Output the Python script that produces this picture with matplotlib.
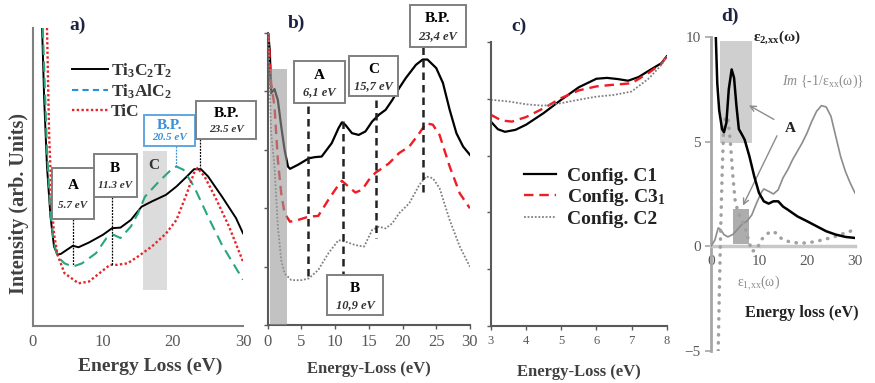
import matplotlib
matplotlib.use('Agg')
import matplotlib.pyplot as plt
from matplotlib.patches import Rectangle
from matplotlib.lines import Line2D

plt.rcParams['font.family'] = ['Liberation Serif', 'DejaVu Serif', 'DejaVu Sans']
plt.rcParams['mathtext.fontset'] = 'custom'
plt.rcParams['mathtext.rm'] = 'Liberation Serif'
plt.rcParams['mathtext.it'] = 'Liberation Serif:italic'
plt.rcParams['mathtext.bf'] = 'Liberation Serif:bold'

# ---- panel a) data (arb. units, 0-100) ----
a_x_ti3c2t2 = [1.3, 1.6, 2, 2.5, 3, 3.5, 4, 5, 5.7, 6.5, 8, 10, 11.3, 12.5, 14, 15.5, 17, 19, 20.5, 22, 23, 24, 25, 27, 29, 30]
a_y_ti3c2t2 = [100, 76, 53.5, 36.7, 26.7, 23.9, 24.2, 25.8, 26.9, 26.4, 28, 30.6, 32.8, 33, 35.6, 40, 41.8, 44, 46.8, 50.2, 52.6, 52.6, 50.2, 43.4, 36.2, 31.1]
a_x_ti3alc2 = [1.4, 2, 2.5, 3, 3.5, 4.5, 5.7, 7, 9, 10.5, 11.5, 12.5, 14, 15, 16, 18, 20, 20.5, 21.5, 23, 25, 27, 30]
a_y_ti3alc2 = [100, 59, 37.8, 27.8, 23.3, 21, 19.9, 21, 24.4, 29.5, 30.6, 29.5, 33.4, 37.8, 43.4, 48.5, 53, 53.5, 52.4, 46.8, 36.7, 27.2, 15.5]
a_x_tic = [2, 2.3, 2.7, 3, 3.5, 4.5, 6.5, 8, 9.5, 11, 12, 13.5, 15, 17, 19, 20.5, 22, 23, 23.5, 24.5, 26, 28, 30]
a_y_tic = [100, 64.7, 40, 31, 23.9, 17.7, 14.3, 14.9, 17.7, 20.5, 20.5, 21, 23.3, 26.7, 31, 35.6, 44.6, 51.3, 53, 50.2, 43.4, 33.4, 21.6]

# ---- panel b) data ----
b_x_c1 = [0.05, 0.3, 0.5, 1.0, 1.5, 2, 2.5, 3, 3.3, 4.5, 6.1, 7, 8, 9.5, 10.5, 11, 11.5, 12.5, 13.5, 14.5, 15.5, 16.5, 17.5, 18.5, 19.5, 20.5, 22, 23, 23.7, 25, 26, 27, 28, 29, 30]
b_y_c1 = [100, 94, 79.4, 80.8, 77, 68, 60, 54.3, 53.5, 54.9, 57.1, 57.5, 57.7, 62.3, 67.4, 69.4, 68.6, 65.7, 65.1, 66.3, 69.7, 72, 73.7, 77.1, 81.1, 84.6, 89.1, 90.9, 90.9, 88, 82.9, 73.7, 65.7, 61.1, 58.3]
b_x_c31 = [0.1, 0.5, 1, 1.5, 2, 2.5, 3.3, 4.5, 6, 7.5, 9, 10.5, 11, 12, 13, 14, 15, 16, 17, 18, 19.5, 21, 22.5, 23.5, 24.5, 25.5, 27, 28.5, 30]
b_y_c31 = [100, 82.9, 74.9, 56.6, 45.1, 38.3, 35.4, 36, 37.1, 37.4, 42.9, 48, 49.4, 47.4, 45.4, 46.3, 49.7, 52.2, 53.7, 55.4, 58.9, 61.1, 65.7, 69.1, 68.6, 65.1, 54.3, 45.1, 40]
b_x_c2 = [0.1, 0.5, 1, 1.5, 2, 2.5, 3.5, 5, 6.1, 7.5, 9, 10.5, 11.5, 13, 14.3, 15.5, 16.5, 17.5, 18.5, 19.5, 21, 22.5, 23.5, 24.5, 25.5, 27, 28.5, 30]
b_y_c2 = [100, 65.7, 54.3, 33.7, 22.3, 17.7, 15.4, 15.4, 16, 18.9, 24.6, 29.1, 28.6, 27.4, 26.9, 32.6, 33.7, 33.1, 34.9, 38.3, 41.7, 48, 50.9, 50.3, 46.9, 36, 26.9, 20]

# ---- panel c) data (zoom 3-8 eV) ----
c_x_c1 = [3, 3.2, 3.4, 3.7, 4, 4.5, 5, 5.5, 6, 6.3, 6.6, 6.9, 7.2, 7.5, 7.85, 8]
c_y_c1 = [72, 69.3, 68.4, 69.1, 70.9, 75, 79.7, 84.1, 87.1, 87.4, 87, 86.4, 87.7, 90, 92.6, 95]
c_x_c31 = [3, 3.3, 3.6, 4, 4.5, 5, 5.5, 6, 6.5, 7, 7.5, 7.85, 8]
c_y_c31 = [74.4, 72.4, 72, 73.6, 76.7, 80.3, 83, 84.4, 85, 85.5, 89.3, 92.4, 95]
c_x_c2 = [3, 3.5, 4, 4.5, 5, 5.5, 6, 6.5, 7, 7.5, 7.85, 8]
c_y_c2 = [79.7, 79.1, 78.1, 77.6, 78.5, 79.7, 80.8, 81.4, 82.6, 87.3, 92, 95]

# ---- panel d) dielectric function ----
d_x_eps2 = [1.0, 1.3, 1.7, 2.3, 2.7, 3.2, 3.7, 4.3, 4.8, 5.3, 5.8, 6.3, 7, 8, 9, 10, 11, 12, 13, 14, 15, 16, 18, 20, 22, 24, 26, 28, 30]
d_y_eps2 = [10, 7.8, 6.5, 5.6, 5.45, 5.9, 7.5, 8.45, 8.05, 6.7, 5.6, 5.4, 5.1, 4.3, 3.35, 2.55, 2.15, 2.04, 2.15, 2.15, 1.9, 1.75, 1.43, 1.2, 0.96, 0.72, 0.56, 0.45, 0.4]
d_x_loss = [0, 0.8, 1.5, 2, 2.7, 3.5, 4.5, 5.5, 6.5, 7.5, 8.5, 9.5, 10.5, 11, 12, 13, 14, 15, 16, 17, 18, 19, 20, 21, 22, 23, 24, 25, 26, 27, 28, 29, 30]
d_y_loss = [0, 0.3, 0.88, 0.8, 0.56, 0.45, 0.56, 0.8, 1.07, 1.2, 1.5, 2.07, 2.58, 2.74, 2.63, 2.5, 2.7, 3.27, 3.66, 4.14, 4.54, 4.94, 5.41, 5.97, 6.45, 6.72, 6.66, 6.21, 5.25, 4.3, 3.58, 3.03, 2.55]
d_x_eps1 = [1.5, 1.7, 2, 2.3, 2.6, 3, 3.5, 4, 4.5, 5, 5.5, 6, 7, 8, 8.5, 9.5, 10.5, 11.5, 12.5, 13.5, 14.5, 16, 18, 20, 22, 24, 26, 28, 30]
d_y_eps1 = [-5, -2.55, 0.64, 3.35, 5.4, 6.2, 6.13, 5.1, 3.5, 2.23, 1.75, 1.43, 0.96, 0.16, -0.24, -0.16, 0.32, 0.56, 0.72, 0.64, 0.4, 0.24, 0.16, 0.16, 0.24, 0.35, 0.48, 0.64, 0.8]

GRAY_TXT = '#595959'
PANEL_COL = '#1c2340'

fig = plt.figure(figsize=(8.75, 3.83), dpi=100)
ax_a = fig.add_axes([0.0377, 0.149, 0.240, 0.778])
ax_b = fig.add_axes([0.306, 0.151, 0.231, 0.763])
ax_c = fig.add_axes([0.561, 0.149, 0.201, 0.741])
ax_d = fig.add_axes([0.8126, 0.0836, 0.1645, 0.8198])


def box(ax, x0, x1, y0, y1, title, sub, color='black', ec='#7f7f7f', ts=11, ss=8):
    ax.add_patch(Rectangle((x0, y0), x1 - x0, y1 - y0, fc='white', ec=ec, lw=1.4,
                           clip_on=False, zorder=6))
    xm = (x0 + x1) / 2
    ax.text(xm, y0 + 0.66 * (y1 - y0), title, ha='center', va='center', fontsize=ts,
            fontweight='bold', color=color, zorder=7, clip_on=False)
    ax.text(xm, y0 + 0.26 * (y1 - y0), sub, ha='center', va='center', fontsize=ss,
            fontweight='bold', style='italic', color=color if color != 'black' else '#333333',
            zorder=7, clip_on=False)


def style_axes(ax, spine_col):
    for s in ['top', 'right']:
        ax.spines[s].set_visible(False)
    for s in ['left', 'bottom']:
        ax.spines[s].set_color(spine_col)
        ax.spines[s].set_linewidth(1.5)


# ================= a) =================
ax = ax_a
style_axes(ax, '#7f7f7f')
ax.plot(a_x_ti3c2t2, a_y_ti3c2t2, color='black', lw=1.4, zorder=3)
ax.plot(a_x_ti3alc2, a_y_ti3alc2, color='#2aa57f', lw=1.5, ls=(0, (5, 3)), zorder=3)
ax.plot(a_x_tic, a_y_tic, color='#e8242a', lw=1.7, ls=(0, (1, 1)), zorder=3)
ax.axvspan(15.7, 19.1, ymin=0.121, ymax=0.588, color='#dcdcdc', zorder=1, lw=0)
ax.set_xlim(0, 30)
ax.set_ylim(0, 100)
ax.set_xticks([0, 10, 20, 30])
ax.set_yticks([])
ax.tick_params(axis='x', length=0, labelsize=12, labelcolor=GRAY_TXT, pad=6)
ax.set_xlabel('Energy Loss (eV)', fontsize=14, fontweight='bold', color='#404040')
ax.xaxis.set_label_coords(0.56, -0.107)
ax.set_ylabel('Intensity (arb. Units)', fontsize=14.5, fontweight='bold', color='#404040')
ax.yaxis.set_label_coords(-0.02, 0.41)
ax.text(6.4, 101, 'a)', fontsize=14, fontweight='bold', color=PANEL_COL, ha='center', va='center', clip_on=False)

# annotation leaders
ax.plot([5.7, 5.7], [36, 20], color='black', lw=0.9, ls=(0, (1.5, 1)), zorder=4)
ax.plot([11.3, 11.3], [43.4, 20.3], color='black', lw=0.9, ls=(0, (1.5, 1)), zorder=4)
ax.plot([20.5, 20.5], [60.5, 53.5], color='#3a8fd9', lw=0.9, ls=(0, (1.5, 1)), zorder=4)
ax.plot([23.8, 23.8], [62.7, 53], color='black', lw=0.9, ls=(0, (1.5, 1)), zorder=4)
box(ax, 2.7, 8.7, 36, 53, 'A', '5.7 eV')
box(ax, 8.7, 14.8, 43.4, 57.7, 'B', '11.3 eV')
box(ax, 15.8, 23.2, 60.5, 70.9, 'B.P.', '20.5 eV', color='#3a8fd9', ec='#5fa6e0')
box(ax, 23.3, 31.9, 62.7, 75.6, 'B.P.', '23.5 eV')
ax.text(17.3, 54, 'C', fontsize=11, fontweight='bold', color='#333333', ha='center', va='center', zorder=4)

handles = [Line2D([], [], color='black', lw=1.4),
           Line2D([], [], color='#2a8ed8', lw=1.5, ls=(0, (3, 2))),
           Line2D([], [], color='#e8242a', lw=1.7, ls=(0, (1, 1)))]
labels = [r'Ti$_\mathdefault{3}$C$_\mathdefault{2}$T$_\mathdefault{2}$',
          r'Ti$_\mathdefault{3}$AlC$_\mathdefault{2}$', 'TiC']
leg = ax.legend(handles, labels, loc='upper left', bbox_to_anchor=(0.11, 0.94), frameon=False,
                handlelength=2.1, handletextpad=0.15, labelspacing=0.15,
                prop={'size': 12.5, 'weight': 'bold'})
for t in leg.get_texts():
    t.set_color('#333333')

# ================= b) =================
ax = ax_b
style_axes(ax, '#595959')
ax.plot(b_x_c1, b_y_c1, color='black', lw=1.6, zorder=3)
ax.plot(b_x_c31, b_y_c31, color='#ee1c24', lw=1.7, ls=(0, (4, 2.5)), zorder=3)
ax.plot(b_x_c2, b_y_c2, color='#808080', lw=1.3, ls=(0, (1, 1)), zorder=3)
ax.axvspan(0.35, 2.87, ymin=0, ymax=0.878, color='#9a9a9a', alpha=0.6, zorder=4, lw=0)
ax.set_xlim(0, 30)
ax.set_ylim(0, 100)
ax.set_xticks([0, 5, 10, 15, 20, 25, 30])
ax.set_yticks([0, 20, 40, 60, 80, 100])
ax.set_yticklabels([])
ax.tick_params(axis='both', length=3, width=1, color='#595959', labelsize=12, labelcolor=GRAY_TXT)
ax.set_xlabel('Energy-Loss (eV)', fontsize=12, fontweight='bold', color='#404040', labelpad=8)
ax.text(4.3, 103.4, 'b)', fontsize=14, fontweight='bold', color=PANEL_COL, ha='center', va='center', clip_on=False)

dash = (0, (3, 2))
ax.plot([5.9, 5.9], [74.9, 15.4], color='#222222', lw=1.8, ls=dash, zorder=4)
ax.plot([16.0, 16.0], [77.1, 29.7], color='#222222', lw=1.8, ls=dash, zorder=4)
ax.plot([23.0, 23.0], [95.2, 45.1], color='#222222', lw=1.8, ls=dash, zorder=4)
ax.plot([11.2, 11.2], [69.7, 17.1], color='#222222', lw=1.8, ls=dash, zorder=4)
box(ax, 3.95, 11.4, 76, 90.3, 'A', '6,1 eV', ss=9)
box(ax, 12.1, 19.3, 78.3, 92.2, 'C', '15,7 eV', ss=9)
box(ax, 21.1, 29.4, 95.2, 109.7, 'B.P.', '23,4 eV', ss=9)
box(ax, 8.75, 17.15, 3.4, 17.1, 'B', '10,9 eV', ss=9)

# ================= c) =================
ax = ax_c
style_axes(ax, '#595959')
ax.plot(c_x_c1, c_y_c1, color='black', lw=1.6, label='Config. C1')
ax.plot(c_x_c31, c_y_c31, color='#ee1c24', lw=1.7, ls=(0, (4, 2.5)), label=r'Config. C3$_\mathdefault{1}$')
ax.plot(c_x_c2, c_y_c2, color='#808080', lw=1.3, ls=(0, (1, 1)), label='Config. C2')
ax.set_xlim(3, 8)
ax.set_ylim(0, 100)
ax.set_xticks([3, 4, 5, 6, 7, 8])
ax.set_yticks([0, 20, 40, 60, 80, 100])
ax.set_yticklabels([])
ax.tick_params(axis='both', length=3, width=1, color='#595959', labelsize=9, labelcolor=GRAY_TXT)
ax.set_xlabel('Energy-Loss (eV)', fontsize=12, fontweight='bold', color='#404040', labelpad=12)
ax.text(3.8, 105.6, 'c)', fontsize=14, fontweight='bold', color=PANEL_COL, ha='center', va='center', clip_on=False)
leg = ax.legend(loc='upper left', bbox_to_anchor=(0.09, 0.62), frameon=False, handlelength=1.65,
                handletextpad=0.55, labelspacing=0.1, prop={'size': 14, 'weight': 'bold'})
for t in leg.get_texts():
    t.set_color('#222222')

# ================= d) =================
ax = ax_d
for s in ['top', 'right']:
    ax.spines[s].set_visible(False)
ax.spines['left'].set_color('#a6a6a6')
ax.spines['left'].set_linewidth(2)
ax.spines['bottom'].set_color('#c8c8c8')
ax.spines['bottom'].set_linewidth(2.5)
ax.spines['bottom'].set_position(('data', 0))
ax.add_patch(Rectangle((1.9, 4.94), 6.7, 4.86, fc='#a8a8a8', alpha=0.55, lw=0, zorder=1))
ax.add_patch(Rectangle((4.5, 0.13), 3.4, 1.65, fc='#8a8a8a', alpha=0.7, lw=0, zorder=1))
ax.plot(d_x_loss, d_y_loss, color='#8c8c8c', lw=1.2, zorder=3)
ax.plot(d_x_eps1, d_y_eps1, color='#a0a0a0', lw=2.5, ls=(0, (0.1, 2.2)), dash_capstyle='round', zorder=3)
ax.plot(d_x_eps2, d_y_eps2, color='black', lw=1.8, zorder=4)
ax.set_xlim(0, 30)
ax.set_ylim(-5, 10)
ax.set_xticks([0, 10, 20, 30])
ax.set_yticks([-5, 0, 5, 10])
ax.tick_params(axis='both', length=4, width=1.2, color='#a6a6a6', labelsize=11, labelcolor=GRAY_TXT)
ax.tick_params(axis='x', length=0, pad=6)
ax.text(4.0, 11.0, 'd)', fontsize=14, fontweight='bold', color=PANEL_COL, ha='center', va='center', clip_on=False)
ax.text(8.8, 10.0, r'ε$_\mathdefault{2{,}xx}$(ω)', fontsize=11, fontweight='bold', color='#222222',
        ha='left', va='center', clip_on=False)
ax.text(14.7, 7.9, r'$\mathit{Im}$ {-1/ε$_\mathdefault{xx}$(ω)}', fontsize=10, color='#8c8c8c',
        ha='left', va='center', clip_on=False)
ax.text(10.0, -1.75, r'ε$_\mathdefault{1{,}xx}$(ω)', fontsize=10, color='#8c8c8c',
        ha='center', va='center', clip_on=False)
ax.text(15.4, 5.65, 'A', fontsize=11, fontweight='bold', color='#222222', ha='left', va='center')
ax.annotate('', xy=(7.4, 6.8), xytext=(13.6, 6.0),
            arrowprops=dict(arrowstyle='->', color='#8c8c8c', lw=1))
ax.annotate('', xy=(6.4, 1.83), xytext=(14.0, 5.4),
            arrowprops=dict(arrowstyle='->', color='#8c8c8c', lw=1))
ax.text(18.9, -3.2, 'Energy loss (eV)', fontsize=11.7, fontweight='bold', color='#222222',
        ha='center', va='center', clip_on=False)

fig.savefig('out.png', dpi=100)
